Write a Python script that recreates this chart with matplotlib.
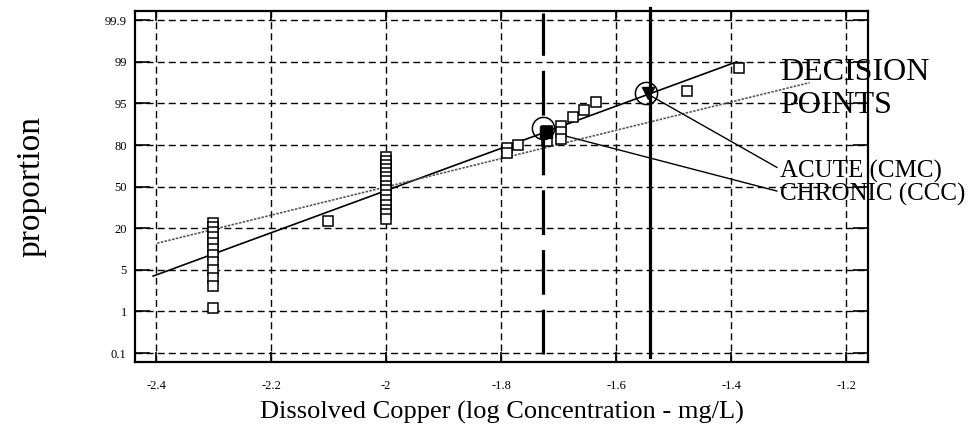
import numpy as np
import matplotlib
matplotlib.use("Agg")
import matplotlib.pyplot as plt
from matplotlib.scale import FuncScale

plt.rcParams['font.family'] = ['Liberation Serif', 'DejaVu Serif']

# probability axis: tick values are equally spaced on the chart
P_TICKS = [0.1, 1, 5, 20, 50, 80, 95, 99, 99.9]
P_LABELS = ['0.1', '1', '5', '20', '50', '80', '95', '99', '99.9']
X_TICKS = [-2.4, -2.2, -2.0, -1.8, -1.6, -1.4, -1.2]
X_LABELS = ['-2.4', '-2.2', '-2', '-1.8', '-1.6', '-1.4', '-1.2']

x_obs = [-2.3, -2.3, -2.3, -2.3, -2.3, -2.3, -2.3, -2.3, -2.3, -2.3, -2.3, -2.3,
         -2.1,
         -2.0, -2.0, -2.0, -2.0, -2.0, -2.0, -2.0, -2.0, -2.0, -2.0, -2.0, -2.0, -2.0, -2.0, -2.0,
         -1.79, -1.79, -1.77, -1.72, -1.72, -1.695, -1.695, -1.695,
         -1.675, -1.655, -1.635, -1.477, -1.386]
p_obs = [23.5, 20.9, 18.6, 16.8, 14.6, 12.5, 10.4, 7.8, 5.0, 4.2, 3.4, 1.3,
         25.0,
         71.3, 68.5, 65.6, 62.7, 59.9, 56.9, 54.0, 50.4, 47.6, 44.0, 40.4, 36.9, 33.1, 30.2, 26.6,
         78.0, 74.0, 79.7, 85.1, 81.5, 87.0, 84.7, 82.1,
         90.0, 92.6, 95.1, 96.2, 98.4]

# fitted lines (end points)
acute_fit_x = [-2.405, -1.39]
acute_fit_p = [4.4, 99.0]
chronic_fit_x = [-2.398, -1.263]
chronic_fit_p = [14.6, 97.0]

# decision points
chronic_x, chronic_p = -1.727, 86.0
acute_x, acute_p = -1.548, 96.0
chronic_line_x = -1.727
acute_line_x = -1.541


def prob_to_pos(p):
    p = np.asarray(p, dtype=float)
    out = np.interp(p, P_TICKS, np.arange(len(P_TICKS)))
    out = np.where(p < P_TICKS[0], (p - P_TICKS[0]) / (P_TICKS[1] - P_TICKS[0]), out)
    out = np.where(p > P_TICKS[-1], 8 + (p - P_TICKS[-1]) / (P_TICKS[-1] - P_TICKS[-2]), out)
    return out


def pos_to_prob(y):
    y = np.asarray(y, dtype=float)
    out = np.interp(y, np.arange(len(P_TICKS)), P_TICKS)
    out = np.where(y < 0, P_TICKS[0] + y * (P_TICKS[1] - P_TICKS[0]), out)
    out = np.where(y > 8, P_TICKS[-1] + (y - 8) * (P_TICKS[-1] - P_TICKS[-2]), out)
    return out


fig = plt.figure(figsize=(9.72, 4.43), dpi=100)
ax = fig.add_axes([0.1389, 0.1828, 0.893 - 0.1389, 0.975 - 0.1828])
ax.set_yscale(FuncScale(ax.yaxis, (prob_to_pos, pos_to_prob)))
ax.set_xlim(-2.4365, -1.1617)
ax.set_ylim(float(pos_to_prob(-0.216)), float(pos_to_prob(8.22)))

ax.set_xticks(X_TICKS)
ax.set_xticklabels(X_LABELS)
ax.set_yticks(P_TICKS)
ax.set_yticklabels(P_LABELS)
ax.minorticks_off()
ax.tick_params(direction='in', top=True, right=True, width=1.2, labelsize=9)
ax.tick_params(axis='x', length=7, pad=13)
ax.tick_params(axis='y', length=11, pad=6)
for s in ax.spines.values():
    s.set_linewidth(1.6)

ax.grid(True, color='black', linewidth=1.0, dashes=(5, 3))
ax.set_axisbelow(True)

# fits
ax.plot(acute_fit_x, acute_fit_p, color='black', linewidth=1.2)
ax.plot(chronic_fit_x, chronic_fit_p, color='0.35', linewidth=1.2, dashes=(1.5, 0.8))

# observations
ax.plot(x_obs, p_obs, linestyle='none', marker='s', markersize=7, markerfacecolor='white',
        markeredgecolor='black', markeredgewidth=1.1)

# decision lines
ax.axvline(chronic_line_x, ymin=0.023, ymax=0.994, color='black', linewidth=2.3,
           dashes=(14, 4.7))
ax.axvline(acute_line_x, ymin=0.014, ymax=1.01, color='black', linewidth=2.3, clip_on=False)

# decision points
ax.plot([chronic_x, acute_x], [chronic_p, acute_p], linestyle='none', marker='o', markersize=16,
        markerfacecolor='none', markeredgecolor='black', markeredgewidth=1.1)
ax.plot([chronic_x + 0.006], [chronic_p - 1.2], marker='s', markersize=8, color='black')
ax.plot([acute_x + 0.004], [acute_p], marker='v', markersize=9, color='black')

ax.annotate('ACUTE (CMC)', xy=(acute_x, acute_p), xytext=(-1.315, 61.0),
            fontsize=18, va='center', ha='left', annotation_clip=False,
            arrowprops=dict(arrowstyle='-', color='black', linewidth=1.0,
                            shrinkA=0, shrinkB=2, relpos=(0, 0.6)))
ax.annotate('CHRONIC (CCC)', xy=(-1.694, 83.6), xytext=(-1.315, 44.6),
            fontsize=18, va='center', ha='left', annotation_clip=False,
            arrowprops=dict(arrowstyle='-', color='black', linewidth=1.0,
                            shrinkA=0, shrinkB=3, relpos=(0, 0.6)))
ax.text(-1.315, 96.4, 'DECISION\nPOINTS', fontsize=23, ha='left', va='center',
        linespacing=1.15)

ax.set_xlabel('Dissolved Copper (log Concentration - mg/L)', fontsize=19, labelpad=6)
ax.set_ylabel('proportion', fontsize=24, labelpad=42)

fig.savefig('out.png', dpi=100)
